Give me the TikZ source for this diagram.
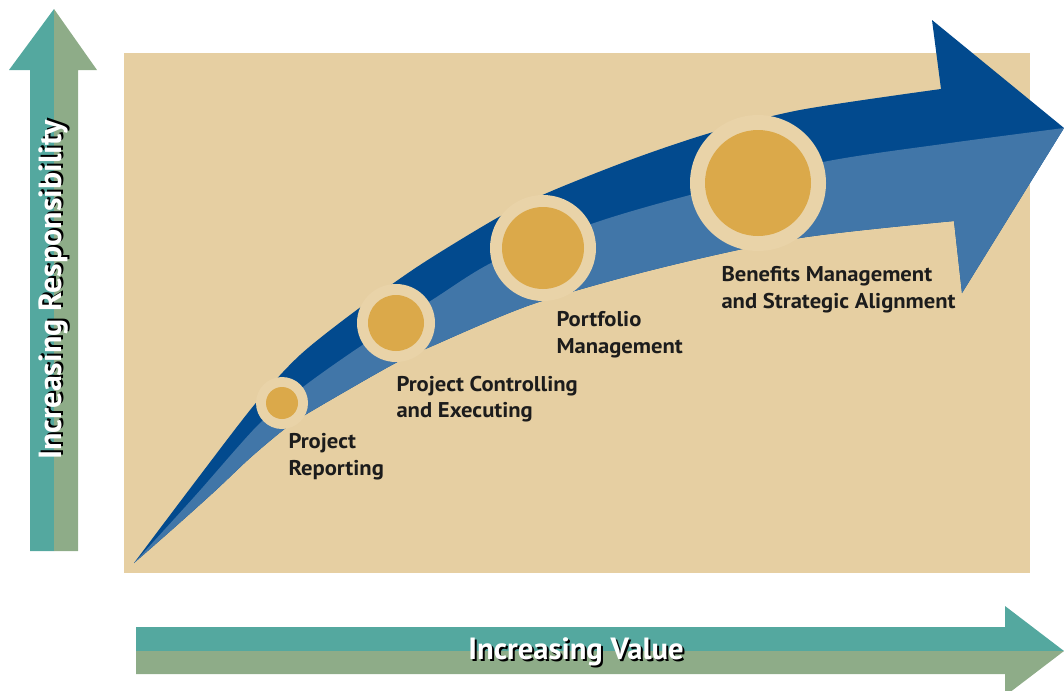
\documentclass[tikz,border=0pt]{standalone}
\usepackage{fontspec}
\setmainfont{PT Sans}
\newfontfamily\axisfont{PT Sans}
\newfontfamily\stagefont[FakeStretch=1.06]{PT Sans}

\definecolor{bgtan}{RGB}{230,207,162}
\definecolor{ringtan}{RGB}{233,211,168}
\definecolor{stagegold}{RGB}{219,169,74}
\definecolor{deepblue}{RGB}{2,74,142}
\definecolor{softblue}{RGB}{65,118,168}
\definecolor{axisteal}{RGB}{84,168,159}
\definecolor{axissage}{RGB}{142,172,136}
\definecolor{labelink}{RGB}{28,28,28}

\tikzset{every picture/.style={line width=0.75pt},
  stage label/.style={anchor=west,align=left,inner sep=0pt,text=labelink,font=\stagefont\bfseries\fontsize{16}{20}\selectfont},
  axis label/.style={inner sep=0pt,text=white,font=\axisfont\bfseries\fontsize{23}{26}\selectfont},
  axis shadow/.style={axis label,text=black},
  stage ring/.style={fill=ringtan},
  stage dot/.style={fill=stagegold}}

\begin{document}
\begin{tikzpicture}[x=0.75pt,y=0.75pt,yscale=-1,xscale=1]
\useasboundingbox (0,0) rectangle (1064,690);

%Shape: Rectangle (background)
\fill [bgtan] (124,53) rectangle (1030,573) ;

%Shape: Up Arrow (responsibility)
\fill [axisteal] (54,9) -- (9,70) -- (30,70) -- (30,551) -- (54,551) -- cycle ;
\fill [axissage] (54,9) -- (97,70) -- (78,70) -- (78,551) -- (54,551) -- cycle ;
%Shape: Right Arrow (value)
\fill [axisteal] (136,627) -- (1005,627) -- (1005,606) -- (1064,651) -- (136,651) -- cycle ;
\fill [axissage] (136,651) -- (1064,651) -- (1005,696) -- (1005,674) -- (136,674) -- cycle ;

%Curve Lines: growth arrow, dark upper band
\fill [deepblue] plot [smooth] coordinates {(134,563) (195,482) (255,404) (300,355) (358,309) (420,265) (497,218) (547,193) (630,160) (710,133) (800,110) (941,89)}
  -- (932,20) -- (1064,128) -- (962,293) -- (954,221)
  -- plot [smooth] coordinates {(954,221) (800,238) (660,268) (533,304) (430,347) (390,366) (305,415) (282,431) (250,458) (215,491) (175,527) (134,563)} -- cycle ;
%Curve Lines: growth arrow, light lower band
\fill [softblue] plot [smooth] coordinates {(134,563) (195,496) (258,425) (303,387) (358,348) (432,300) (497,260) (597,222) (690,195) (823,162) (950,143) (1064,128)}
  -- (962,293) -- (954,221)
  -- plot [smooth] coordinates {(954,221) (800,238) (660,268) (533,304) (430,347) (390,366) (305,415) (282,431) (250,458) (215,491) (175,527) (134,563)} -- cycle ;

%Shape: Circles (stages)
\fill [stage ring] (282,403) circle [radius=26] ;
\fill [stage dot] (282,403) circle [radius=16] ;
\fill [stage ring] (396,323) circle [radius=39] ;
\fill [stage dot] (396,323) circle [radius=28] ;
\fill [stage ring] (543,248) circle [radius=53] ;
\fill [stage dot] (543,248) circle [radius=41] ;
\fill [stage ring] (758,183) circle [radius=68] ;
\fill [stage dot] (758,183) circle [radius=53] ;

% Text Node
\node [stage label] (reporting) at (288,457) {Project\\Reporting};
% Text Node
\node [stage label] (controlling) at (396,399) {Project Controlling\\and Executing};
% Text Node
\node [stage label] (portfolio) at (556,335) {Portfolio\\Management};
% Text Node
\node [stage label] (benefits) at (721,290) {Benefits Management\\and Strategic Alignment};

% Text Node
\node [axis shadow, rotate=90, font=\axisfont\bfseries\fontsize{24}{26}\selectfont] (respshadow) at (56,288) {Increasing Responsibility};
\node [axis label, rotate=90, font=\axisfont\bfseries\fontsize{24}{26}\selectfont] (resp) at (54,290) {Increasing Responsibility};
% Text Node
\node [axis shadow] (valueshadow) at (578,654) {Increasing Value};
\node [axis label] (value) at (576,652) {Increasing Value};

\end{tikzpicture}
\end{document}
